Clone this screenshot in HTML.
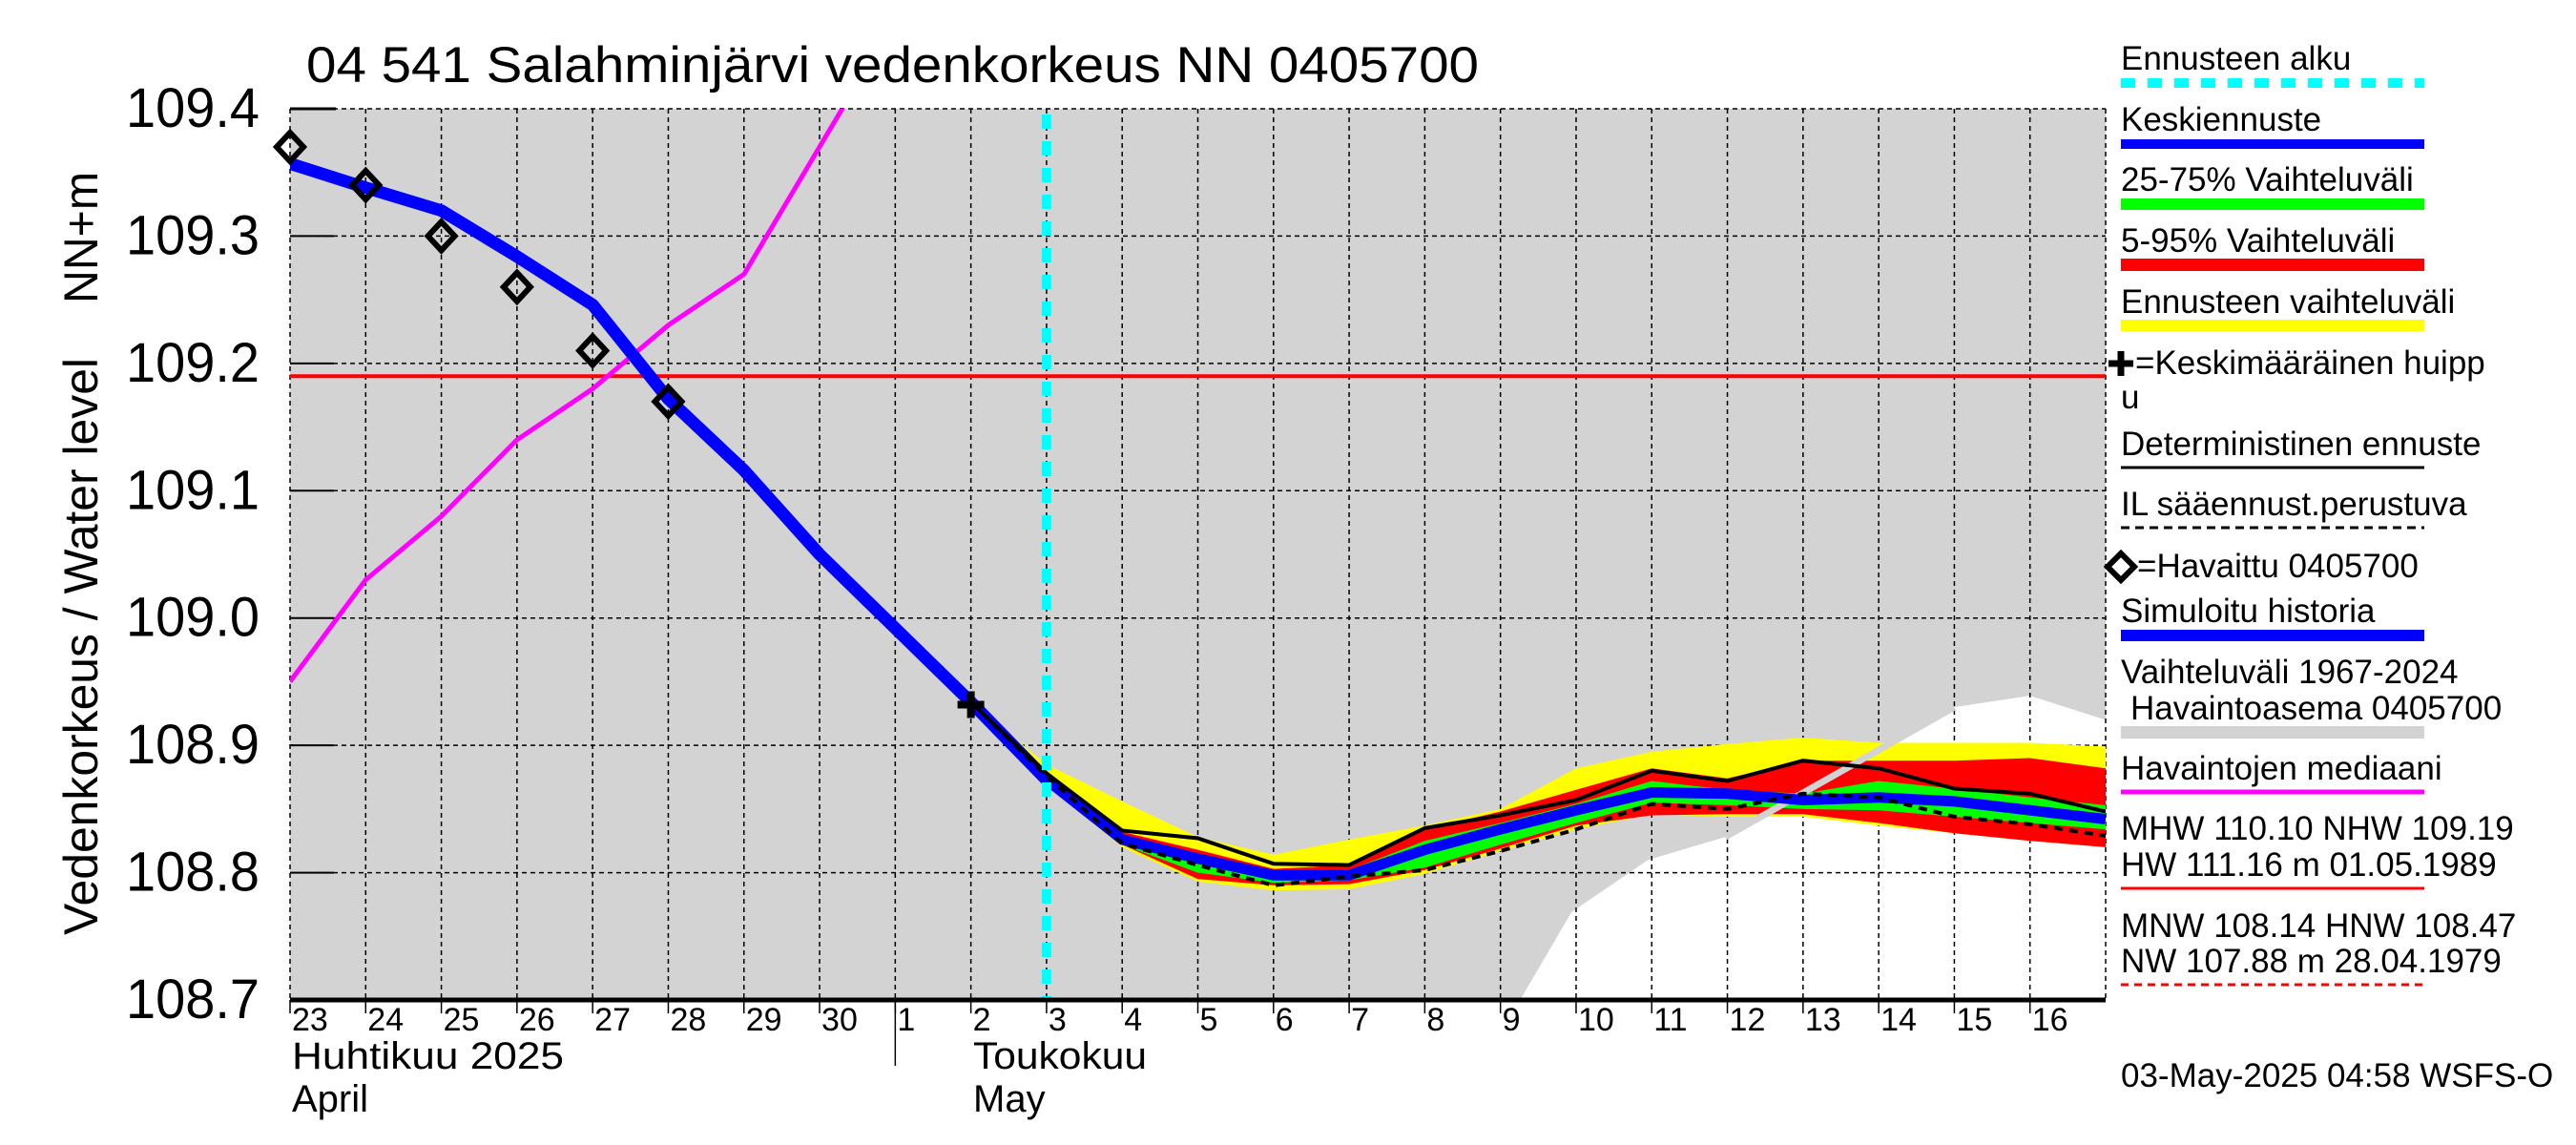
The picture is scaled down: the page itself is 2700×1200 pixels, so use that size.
<!DOCTYPE html>
<html><head><meta charset="utf-8"><style>
html,body{margin:0;padding:0;background:#fff;}
svg{display:block;font-family:"Liberation Sans",Arial,sans-serif;}
</style></head><body>
<svg id="chart" width="2700" height="1200" viewBox="0 0 2700 1200" xmlns="http://www.w3.org/2000/svg">
<g id="plot"></g>
</svg>
<script>
// ---- data (index 0 = 23 April, 8 = 1 May, 23 = 16 May, 24 = 17 May) ----
const dayLabels = ["23","24","25","26","27","28","29","30","1","2","3","4","5","6","7","8","9","10","11","12","13","14","15","16"];
const yTicks = [108.7,108.8,108.9,109.0,109.1,109.2,109.3,109.4];
const yTickLabels = ["108.7","108.8","108.9","109.0","109.1","109.2","109.3","109.4"];
const simIdx = [0,1,2,3,4,5,6,7,8,9,10];
const simVals = [109.357,109.338,109.32,109.284,109.246,109.172,109.116,109.05,108.992,108.934,108.873];
const obsIdx = [0,1,2,3,4,5];
const obsVals = [109.37,109.34,109.30,109.26,109.21,109.17];
const medIdx = [0,1,2,3,4,5,6,7,8];
const medVals = [108.95,109.03,109.08,109.14,109.18,109.23,109.27,109.37,109.47];
const nhw = 109.19;
const fcIdx = [9,10,11,12,13,14,15,16,17,18,19,20,21,22,23,24];
const yelHi = [108.934,108.885,108.856,108.828,108.814,108.826,108.837,108.85,108.882,108.895,108.901,108.906,108.902,108.902,108.902,108.899];
const yelLo = [108.932,108.868,108.82,108.793,108.786,108.787,108.799,108.817,108.834,108.846,108.844,108.844,108.837,108.831,108.825,108.82];
const redHi = [108.934,108.880,108.832,108.818,108.803,108.806,108.834,108.848,108.865,108.882,108.874,108.888,108.888,108.888,108.89,108.882];
const redLo = [108.932,108.870,108.822,108.795,108.79,108.791,108.802,108.819,108.837,108.845,108.846,108.846,108.839,108.831,108.825,108.82];
const grnHi = [108.933,108.876,108.828,108.812,108.801,108.802,108.825,108.839,108.854,108.872,108.865,108.862,108.872,108.866,108.859,108.853];
const grnLo = [108.933,108.872,108.822,108.80,108.792,108.794,108.804,108.822,108.839,108.855,108.853,108.85,108.849,108.844,108.839,108.834];
const blueFc = [108.933,108.873,108.826,108.811,108.798,108.798,108.818,108.834,108.849,108.863,108.862,108.857,108.859,108.856,108.849,108.842];
const detVals = [108.934,108.878,108.833,108.827,108.807,108.806,108.835,108.845,108.857,108.880,108.872,108.888,108.882,108.866,108.862,108.848];
const ilVals = [108.934,108.876,108.823,108.806,108.79,108.797,108.802,108.817,108.834,108.854,108.85,108.862,108.859,108.844,108.838,108.829];
const histMinIdx = [16.26,16.94,17.95,18.97,22,23,24];
const histMinVals = [108.7,108.769,108.81,108.828,108.93,108.939,108.92];
const forecastStart = 10;
const peakIdx = 9, peakVal = 108.932;

// ---- axes ----
const X0=304, X1=2207, Y0=114, Y1=1048, VMAX=109.4, VMIN=108.7;
const X = i => X0 + i*(X1-X0)/24;
const Y = v => Y0 + (VMAX-v)*(Y1-Y0)/(VMAX-VMIN);
const NS="http://www.w3.org/2000/svg";
const svg=document.getElementById('chart');
function mk(tag,attrs,parent){const e=document.createElementNS(NS,tag);for(const k in attrs)e.setAttribute(k,attrs[k]);(parent||svg).appendChild(e);return e;}
function pts(idx,vals){return idx.map((i,k)=>X(i).toFixed(1)+','+Y(vals[k]).toFixed(1)).join(' ');}
function band(idx,hi,lo){return pts(idx,hi)+' '+pts(idx.slice().reverse(),lo.slice().reverse());}

const defs=mk('defs',{});
const cp=mk('clipPath',{id:'pc'},defs);
mk('rect',{x:X0,y:Y0,width:X1-X0,height:Y1-Y0},cp);

let bg=mk('rect',{x:X0,y:Y0,width:X1-X0,height:Y1-Y0,fill:'#d3d3d3'});


let wp=mk('polygon',{points:pts(histMinIdx,histMinVals)+' '+X(24)+','+Y1+' '+X(16.26)+','+Y1,fill:'#fff'});



const grid=mk('g',{stroke:'#000','stroke-width':1.5,'stroke-dasharray':'5,4'});


for(let i=1;i<24;i++){mk('line',{x1:X(i),x2:X(i),y1:Y0,y2:Y1},grid);}
yTicks.forEach(v=>mk('line',{x1:X0,x2:X1,y1:Y(v),y2:Y(v)},grid));
mk('line',{x1:X0,x2:X0,y1:Y0,y2:Y1},grid);
mk('line',{x1:X1,x2:X1,y1:Y0,y2:Y1},grid);

const pg=mk('g',{'clip-path':'url(#pc)'});
let yb=mk('polygon',{points:band(fcIdx,yelHi,yelLo),fill:'#ffff00'},pg);


let rb=mk('polygon',{points:band(fcIdx,redHi,redLo),fill:'#ff0000'},pg);


let gb=mk('polygon',{points:band(fcIdx,grnHi,grnLo),fill:'#00ff00'},pg);


let hl=mk('polyline',{points:pts(histMinIdx.slice(3,5),histMinVals.slice(3,5)),fill:'none',stroke:'#d3d3d3','stroke-width':7},pg);


let nl=mk('line',{x1:X0,x2:X1,y1:Y(nhw),y2:Y(nhw),stroke:'#ff0000','stroke-width':4},pg);


let ml=mk('polyline',{points:pts(medIdx,medVals),fill:'none',stroke:'#ff00ff','stroke-width':5},pg);


let sl=mk('polyline',{points:pts(simIdx,simVals),fill:'none',stroke:'#0000ff','stroke-width':13,'stroke-linejoin':'round'},pg);


let bl=mk('polyline',{points:pts(fcIdx,blueFc),fill:'none',stroke:'#0000ff','stroke-width':11},pg);


let dl=mk('polyline',{points:pts(fcIdx,detVals),fill:'none',stroke:'#000','stroke-width':4},pg);


let il=mk('polyline',{points:pts(fcIdx,ilVals),fill:'none',stroke:'#000','stroke-width':4,'stroke-dasharray':'9,7'},pg);


obsIdx.forEach((i,k)=>{const x=X(i),y=Y(obsVals[k]);
 const d=mk('polygon',{points:`${x},${y-15} ${x+14},${y} ${x},${y+15} ${x-14},${y}`,fill:'none',stroke:'#000','stroke-width':6});
 
 });
{const x=X(peakIdx),y=Y(peakVal);
 const p=mk('path',{d:`M${x-14},${y}H${x+14}M${x},${y-14}V${y+14}`,stroke:'#000','stroke-width':8});
 
 }
let fl=mk('line',{x1:X(forecastStart),x2:X(forecastStart),y1:Y0+6,y2:Y1,stroke:'#00ffff','stroke-width':10,'stroke-dasharray':'15,13'});



mk('line',{x1:X0,x2:X1,y1:Y1,y2:Y1,stroke:'#000','stroke-width':5});
mk('line',{x1:X0,x2:X0+48,y1:Y0,y2:Y0,stroke:'#000','stroke-width':3});
yTicks.forEach((v,k)=>{
 mk('line',{x1:X0,x2:X0+46,y1:Y(v),y2:Y(v),stroke:'#000','stroke-width':2});
 const t=mk('text',{x:272,y:Y(v)+19,'text-anchor':'end','font-size':58,textLength:140,lengthAdjust:'spacingAndGlyphs'});
 t.textContent=yTickLabels[k];
 
 
});
dayLabels.forEach((d,i)=>{
 mk('line',{x1:X(i),x2:X(i),y1:Y1,y2:Y1+14,stroke:'#000','stroke-width':1.5});
 const t=mk('text',{x:X(i)+2,y:1080,'font-size':34});
 t.textContent=d;
 
 
});
mk('line',{x1:X(8),x2:X(8),y1:Y1,y2:1117,stroke:'#000','stroke-width':1.5});
</script>
<svg style="position:absolute;left:0;top:0" width="2700" height="1200" xmlns="http://www.w3.org/2000/svg" font-family="Liberation Sans, Arial, sans-serif">
<text x="321" y="86" font-size="53" textLength="1229" lengthAdjust="spacingAndGlyphs">04 541 Salahminjärvi vedenkorkeus NN 0405700</text>
<text transform="translate(102,980) rotate(-90)" font-size="50" textLength="605" lengthAdjust="spacingAndGlyphs">Vedenkorkeus / Water level</text>
<text transform="translate(102,318) rotate(-90)" font-size="50" textLength="138" lengthAdjust="spacingAndGlyphs">NN+m</text>
<text x="306" y="1120" font-size="40" textLength="285" lengthAdjust="spacingAndGlyphs">Huhtikuu  2025</text>
<text x="306" y="1165" font-size="40">April</text>
<text x="1020" y="1120" font-size="40" textLength="182" lengthAdjust="spacingAndGlyphs">Toukokuu</text>
<text x="1020" y="1165" font-size="40">May</text>
<g font-size="35">
<text x="2223" y="73">Ennusteen alku</text>
<line x1="2223" x2="2541" y1="87" y2="87" stroke="#00ffff" stroke-width="10" stroke-dasharray="15,13"/>
<text x="2223" y="137">Keskiennuste</text>
<rect x="2223" y="146" width="318" height="10" fill="#0000ff"/>
<text x="2223" y="200">25-75% Vaihteluväli</text>
<rect x="2223" y="208" width="318" height="12" fill="#00ff00"/>
<text x="2223" y="264">5-95% Vaihteluväli</text>
<rect x="2223" y="271" width="318" height="13" fill="#ff0000"/>
<text x="2223" y="328">Ennusteen vaihteluväli</text>
<rect x="2223" y="335" width="318" height="12" fill="#ffff00"/>
<path d="M2210,381H2236M2223,368V394" stroke="#000" stroke-width="7"/>
<text x="2238" y="392">=Keskimääräinen huipp</text>
<text x="2223" y="428">u</text>
<text x="2223" y="477">Deterministinen ennuste</text>
<line x1="2223" x2="2541" y1="490" y2="490" stroke="#000" stroke-width="3"/>
<text x="2223" y="540">IL sääennust.perustuva</text>
<line x1="2223" x2="2541" y1="553" y2="553" stroke="#000" stroke-width="3" stroke-dasharray="9,6"/>
<polygon points="2223,580 2237,594 2223,608 2209,594" fill="none" stroke="#000" stroke-width="6"/>
<text x="2240" y="605">=Havaittu 0405700</text>
<text x="2223" y="652">Simuloitu historia</text>
<rect x="2223" y="660" width="318" height="12" fill="#0000ff"/>
<text x="2223" y="716">Vaihteluväli 1967-2024</text>
<text x="2233" y="754">Havaintoasema 0405700</text>
<rect x="2223" y="761" width="318" height="13" fill="#d3d3d3"/>
<text x="2223" y="817">Havaintojen mediaani</text>
<line x1="2223" x2="2541" y1="830" y2="830" stroke="#ff00ff" stroke-width="5"/>
<text x="2223" y="880">MHW 110.10 NHW 109.19</text>
<text x="2223" y="918">HW 111.16 m 01.05.1989</text>
<line x1="2223" x2="2541" y1="931" y2="931" stroke="#ff0000" stroke-width="3"/>
<text x="2223" y="982">MNW 108.14 HNW 108.47</text>
<text x="2223" y="1019">NW 107.88 m 28.04.1979</text>
<line x1="2223" x2="2541" y1="1032" y2="1032" stroke="#ff0000" stroke-width="3" stroke-dasharray="8,6"/>
</g>
<text x="2223" y="1139" font-size="35">03-May-2025 04:58 WSFS-O</text>
</svg>
</body></html>
